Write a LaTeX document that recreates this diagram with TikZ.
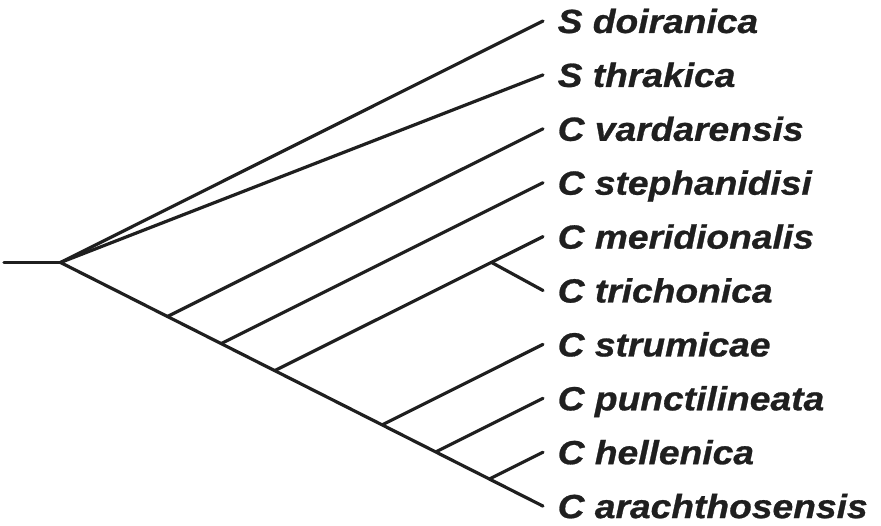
\documentclass[tikz,border=0pt]{standalone}
\usepackage{fontspec}
\newfontfamily\taxonfont[FakeStretch=1.11,FakeBold=0.8]{Liberation Sans}
\tikzset{
  branch/.style={line width=3.2pt, draw=black!88, line cap=round, line join=round},
  taxon/.style={anchor=base west, inner sep=0pt, text=black!88,
    font=\taxonfont\bfseries\itshape\fontsize{33.5}{40}\selectfont}
}
\begin{document}
\begin{tikzpicture}[x=1pt, y=-1pt]
  \useasboundingbox (0,0) rectangle (881,526);

  % tips (line ends) and their labels
  \foreach \name/\txt [count=\k from 0] in {
      doi/S doiranica, thr/S thrakica, var/C vardarensis,
      ste/C stephanidisi, mer/C meridionalis, tri/C trichonica,
      str/C strumicae, pun/C punctilineata, hel/C hellenica,
      ara/C arachthosensis} {
    \coordinate (t-\name) at (543, {21+53.9*\k});
    \node[taxon] (l-\name) at (557.5, {21+53.9*\k+12}) {\txt};
  }

  % root and internal nodes on the spine
  \coordinate (base) at (4,262.5);
  \coordinate (root) at (60.5,262.5);
  \coordinate (n-var) at (167.5,316.5);
  \coordinate (n-ste) at (221.2,343.6);
  \coordinate (n-mer) at (274.8,370.6);
  \coordinate (n-tri) at (491.5,262.4);
  \coordinate (n-str) at (382.1,424.9);
  \coordinate (n-pun) at (435.8,451.9);
  \coordinate (n-hel) at (489.4,479.0);

  % tree
  \draw[branch] (base) -- (root);
  \draw[branch] (root) -- (t-doi);
  \draw[branch] (root) -- (t-thr);
  \draw[branch] (root) -- (t-ara);
  \draw[branch] (n-var) -- (t-var);
  \draw[branch] (n-ste) -- (t-ste);
  \draw[branch] (n-mer) -- (t-mer);
  \draw[branch] (n-tri) -- (t-tri);
  \draw[branch] (n-str) -- (t-str);
  \draw[branch] (n-pun) -- (t-pun);
  \draw[branch] (n-hel) -- (t-hel);
\end{tikzpicture}
\end{document}
